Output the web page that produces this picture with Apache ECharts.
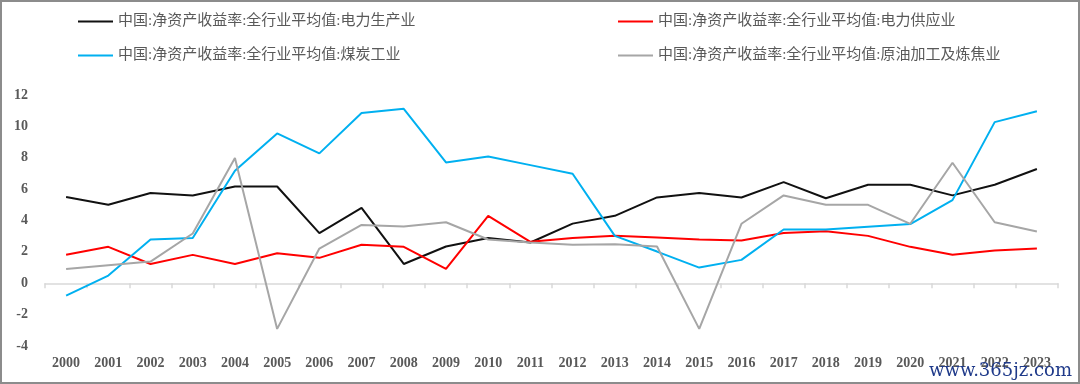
<!DOCTYPE html>
<html>
<head>
<meta charset="utf-8">
<script src="https://cdn.jsdelivr.net/npm/echarts@6/dist/echarts.min.js"></script>
<style>
  html, body { margin: 0; padding: 0; background: #fff; }
  #wrap { width: 1080px; height: 384px; box-sizing: border-box; border: 2px solid #8c8c8c; position: relative; }
  #chart { position: absolute; left: -2px; top: -2px; width: 1080px; height: 384px; }
</style>
</head>
<body>
<div id="wrap"><div id="chart"></div></div>
<script>
const years = ['2000','2001','2002','2003','2004','2005','2006','2007','2008','2009','2010','2011','2012','2013','2014','2015','2016','2017','2018','2019','2020','2021','2022','2023'];
const seriesNames = [
  '中国:净资产收益率:全行业平均值:电力生产业',
  '中国:净资产收益率:全行业平均值:电力供应业',
  '中国:净资产收益率:全行业平均值:煤炭工业',
  '中国:净资产收益率:全行业平均值:原油加工及炼焦业'
];
const powerGen = [5.5, 5.0, 5.75, 5.6, 6.17, 6.17, 3.2, 4.8, 1.23, 2.34, 2.89, 2.6, 3.8, 4.3, 5.47, 5.76, 5.47, 6.45, 5.42, 6.28, 6.28, 5.6, 6.28, 7.28];
const powerSupply = [1.81, 2.32, 1.23, 1.81, 1.23, 1.91, 1.62, 2.45, 2.32, 0.91, 4.3, 2.64, 2.89, 3.02, 2.91, 2.79, 2.72, 3.21, 3.32, 3.02, 2.32, 1.81, 2.09, 2.21];
const coal = [-0.79, 0.49, 2.79, 2.89, 7.17, 9.55, 8.28, 10.85, 11.12, 7.7, 8.08, 7.53, 6.98, 3.02, 2.02, 1.0, 1.49, 3.43, 3.43, 3.6, 3.77, 5.3, 10.27, 10.96];
const refining = [0.91, 1.15, 1.38, 3.17, 7.98, -2.91, 2.21, 3.72, 3.62, 3.89, 2.79, 2.6, 2.45, 2.49, 2.34, -2.91, 3.79, 5.6, 5.0, 5.0, 3.79, 7.68, 3.89, 3.3];
const yTicks = { min: -4, max: 12, interval: 2 };

const colors = ['#111111', '#ff0000', '#00b0f0', '#a6a6a6'];
const values = [powerGen, powerSupply, coal, refining];

const chart = echarts.init(document.getElementById('chart'), null, { renderer: 'canvas' });
const legendCommon = {
  orient: 'vertical',
  top: 9,
  itemGap: 19,
  itemWidth: 35,
  itemHeight: 2,
  icon: 'rect',
  textStyle: { color: '#595959', fontSize: 15, fontFamily: 'Liberation Serif, "Noto Sans CJK SC", serif', fontWeight: 'normal' }
};
chart.setOption({
  animation: false,
  color: colors,
  legend: [
    Object.assign({}, legendCommon, { left: 73, data: [seriesNames[0], seriesNames[2]] }),
    Object.assign({}, legendCommon, { left: 613, data: [seriesNames[1], seriesNames[3]] })
  ],
  grid: { left: 45, right: 22, top: 95, bottom: 38 },
  xAxis: [
    {
      type: 'category', data: years, boundaryGap: true,
      axisLine: { onZero: true, lineStyle: { color: '#d9d9d9', width: 1.5 } },
      axisTick: { show: true, length: 5, lineStyle: { color: '#d9d9d9', width: 1.5 } },
      axisLabel: { show: false }
    },
    {
      type: 'category', data: years, boundaryGap: true, position: 'bottom',
      axisLine: { show: false, onZero: false },
      axisTick: { show: false },
      axisLabel: { show: true, margin: 10, color: '#595959', fontSize: 14, fontWeight: 'bold', fontFamily: 'Liberation Serif, serif' }
    }
  ],
  yAxis: {
    type: 'value', min: yTicks.min, max: yTicks.max, interval: yTicks.interval,
    axisLine: { show: false }, axisTick: { show: false }, splitLine: { show: false },
    axisLabel: { margin: 17, color: '#595959', fontSize: 14, fontWeight: 'bold', fontFamily: 'Liberation Serif, serif' }
  },
  graphic: [{
    type: 'text', right: 8, bottom: 4,
    style: { text: 'www.365jz.com', fill: '#1f3a8a', font: '18px "DejaVu Serif", serif' },
    z: 100
  }],
  series: seriesNames.map((n, i) => ({
    name: n, type: 'line', data: values[i], xAxisIndex: 0,
    symbol: 'none', lineStyle: { width: 2, color: colors[i] }, itemStyle: { color: colors[i] }
  }))
});
</script>
</body>
</html>
